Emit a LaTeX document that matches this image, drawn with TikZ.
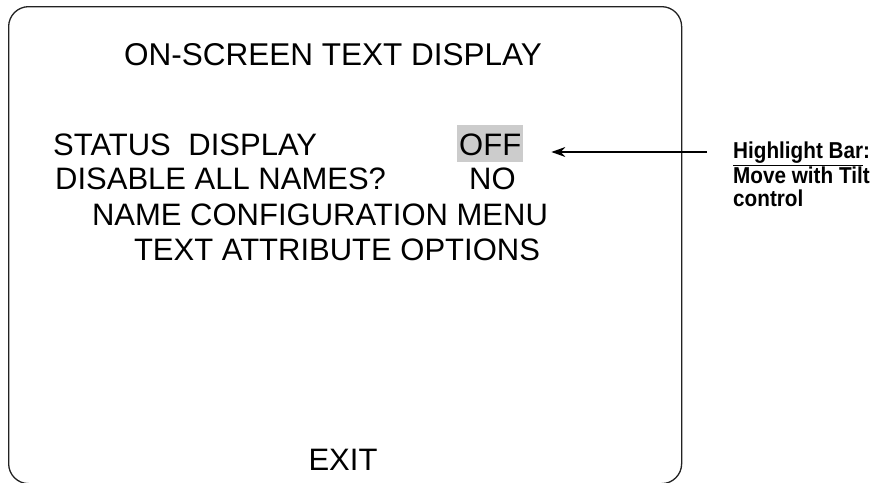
\documentclass[tikz,border=0pt]{standalone}
\usepackage{xcolor}
\usepackage{fontspec}
\setmainfont{Liberation Sans}
\newfontfamily\notefont[FakeStretch=0.9]{Liberation Sans}
\usepackage{tikz}
\usetikzlibrary{arrows.meta}
\definecolor{osdHighlight}{HTML}{CCCCCC}
\definecolor{osdFrame}{HTML}{222222}

\begin{document}
\begin{tikzpicture}[
    x=1pt, y=-1pt,
    screen/.style={rectangle, draw=osdFrame, line width=1.3pt, rounded corners=20pt, minimum width=673pt, minimum height=477pt, anchor=north west, inner sep=0pt},
    menu/.style={inner sep=0pt, font=\fontsize{31}{37}\selectfont},
    hilite/.style={menu, fill=osdHighlight, inner xsep=2pt, text height=30pt, text depth=7pt},
    note/.style={inner sep=0pt, align=left, font=\notefont\bfseries\fontsize{23}{23.5}\selectfont},
    arrow/.style={->, >={Stealth[length=14pt, width=10pt]}, line width=1.3pt}
]
\useasboundingbox (0,0) rectangle (875,482);

% Screen frame
\node[screen] (screen) at (8,6) {};

% Menu lines
\node[menu, anchor=base, font=\fontsize{31.5}{37}\selectfont] (title) at (333,65) {ON-SCREEN TEXT DISPLAY};
\node[menu, anchor=base west] (status) at (53,155) {STATUS\hspace{9pt} DISPLAY};
\node[hilite, anchor=base west] (off) at (457,155) {OFF};
\node[menu, anchor=base west] (disable) at (55,189) {DISABLE ALL NAMES?};
\node[menu, anchor=base west] (no) at (469,189) {NO};
\node[menu, anchor=base] (namecfg) at (320,225) {NAME CONFIGURATION MENU};
\node[menu, anchor=base] (textattr) at (337,260) {TEXT ATTRIBUTE OPTIONS};
\node[menu, anchor=base] (exit) at (343,470) {EXIT};

% Callout
\node[note, anchor=north west] (callout) at (733,142) {\underline{Highlight Bar}:\\Move with Tilt\\control};
\coordinate (tail) at (707,152);
\draw[arrow] (tail) -- (off.east |- tail) [shorten >=28pt];

\end{tikzpicture}
\end{document}
